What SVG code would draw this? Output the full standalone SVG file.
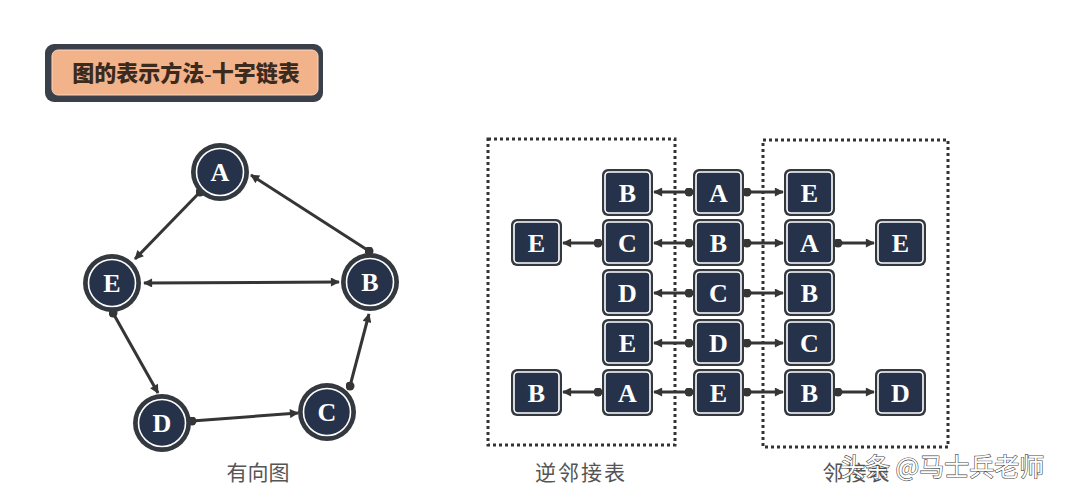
<svg xmlns="http://www.w3.org/2000/svg" width="1080" height="495" viewBox="0 0 1080 495">
<defs>
<style>
.nodeo{fill:#34383f}
.nodei{fill:#263249;stroke:#ffffff;stroke-width:1.6}
.lbl{font-family:"Liberation Serif",serif;font-weight:bold;font-size:26px;fill:#ffffff;text-anchor:middle}
.edge{stroke:#353535;stroke-width:3;fill:none}
.cap{font-family:"Liberation Serif","Noto Sans CJK SC",serif;font-size:21px;fill:#555555;text-anchor:middle}
.dots{fill:none;stroke:#333333;stroke-width:3;stroke-dasharray:3 3}
</style>
<marker id="arr" viewBox="0 0 10 10" refX="9" refY="5" markerWidth="11" markerHeight="9" markerUnits="userSpaceOnUse" orient="auto-start-reverse">
<path d="M0,0 L10,5 L0,10 z" fill="#353535"/>
</marker>
<marker id="dot" viewBox="0 0 10 10" refX="5" refY="5" markerWidth="9" markerHeight="9" markerUnits="userSpaceOnUse">
<circle cx="5" cy="5" r="5" fill="#353535"/>
</marker>
</defs>
<rect width="1080" height="495" fill="#ffffff"/>

<g id="title">
<rect x="45" y="44" width="278" height="58" rx="9" fill="#3a3f4a"/>
<rect x="52" y="50" width="266" height="45" rx="6" fill="#f3b38a" stroke="#f8d6bf" stroke-width="1"/>
<text x="186" y="81" font-family="Liberation Serif,'Noto Sans CJK SC',serif" font-weight="900" font-size="22" fill="#3b2a1e" text-anchor="middle">图的表示方法-十字链表</text>
</g>

<g id="graph-edges">
<line class="edge" x1="200" y1="192" x2="135" y2="259" marker-start="url(#dot)" marker-end="url(#arr)"/>
<line class="edge" x1="369" y1="251" x2="251" y2="175" marker-start="url(#dot)" marker-end="url(#arr)"/>
<line class="edge" x1="144" y1="283" x2="339" y2="282" marker-start="url(#arr)" marker-end="url(#arr)"/>
<line class="edge" x1="113" y1="313" x2="158" y2="393" marker-start="url(#dot)" marker-end="url(#arr)"/>
<line class="edge" x1="192" y1="421" x2="298" y2="413" marker-start="url(#dot)" marker-end="url(#arr)"/>
<line class="edge" x1="350" y1="386" x2="369" y2="314" marker-start="url(#dot)" marker-end="url(#arr)"/>
</g>

<g id="g-A"><circle class="nodeo" cx="220" cy="172" r="29"/><circle class="nodei" cx="220" cy="172" r="23.5"/><text class="lbl" x="220" y="181">A</text></g>
<g id="g-E"><circle class="nodeo" cx="112" cy="283" r="29"/><circle class="nodei" cx="112" cy="283" r="23.5"/><text class="lbl" x="112" y="292">E</text></g>
<g id="g-B"><circle class="nodeo" cx="370" cy="282" r="29"/><circle class="nodei" cx="370" cy="282" r="23.5"/><text class="lbl" x="370" y="291">B</text></g>
<g id="g-D"><circle class="nodeo" cx="162" cy="423" r="29"/><circle class="nodei" cx="162" cy="423" r="23.5"/><text class="lbl" x="162" y="432">D</text></g>
<g id="g-C"><circle class="nodeo" cx="327" cy="412" r="29"/><circle class="nodei" cx="327" cy="412" r="23.5"/><text class="lbl" x="327" y="421">C</text></g>
<text id="cap-graph" class="cap" x="258" y="480">有向图</text>

<g id="frames">
<rect class="dots" x="488" y="139" width="187" height="306"/>
<rect class="dots" x="763" y="140" width="185" height="307"/>
</g>

<g id="list-edges">
<line class="edge" x1="689" y1="192" x2="654" y2="192" marker-start="url(#dot)" marker-end="url(#arr)"/>
<line class="edge" x1="747" y1="192" x2="783" y2="192" marker-start="url(#dot)" marker-end="url(#arr)"/>
<line class="edge" x1="598" y1="243" x2="563" y2="243" marker-start="url(#dot)" marker-end="url(#arr)"/>
<line class="edge" x1="689" y1="243" x2="654" y2="243" marker-start="url(#dot)" marker-end="url(#arr)"/>
<line class="edge" x1="747" y1="243" x2="783" y2="243" marker-start="url(#dot)" marker-end="url(#arr)"/>
<line class="edge" x1="838" y1="243" x2="874" y2="243" marker-start="url(#dot)" marker-end="url(#arr)"/>
<line class="edge" x1="689" y1="293" x2="654" y2="293" marker-start="url(#dot)" marker-end="url(#arr)"/>
<line class="edge" x1="747" y1="293" x2="783" y2="293" marker-start="url(#dot)" marker-end="url(#arr)"/>
<line class="edge" x1="689" y1="343" x2="654" y2="343" marker-start="url(#dot)" marker-end="url(#arr)"/>
<line class="edge" x1="747" y1="343" x2="783" y2="343" marker-start="url(#dot)" marker-end="url(#arr)"/>
<line class="edge" x1="598" y1="392" x2="563" y2="392" marker-start="url(#dot)" marker-end="url(#arr)"/>
<line class="edge" x1="689" y1="392" x2="654" y2="392" marker-start="url(#dot)" marker-end="url(#arr)"/>
<line class="edge" x1="747" y1="392" x2="783" y2="392" marker-start="url(#dot)" marker-end="url(#arr)"/>
<line class="edge" x1="838" y1="392" x2="874" y2="392" marker-start="url(#dot)" marker-end="url(#arr)"/>
</g>

<g id="r0c1"><rect class="nodeo" x="602" y="169" width="51" height="47" rx="6"/><rect class="nodei" x="605" y="172" width="45" height="41" rx="4"/><text class="lbl" x="627.5" y="201.5">B</text></g>
<g id="r0c2"><rect class="nodeo" x="693" y="169" width="51" height="47" rx="6"/><rect class="nodei" x="696" y="172" width="45" height="41" rx="4"/><text class="lbl" x="718.5" y="201.5">A</text></g>
<g id="r0c3"><rect class="nodeo" x="784" y="169" width="51" height="47" rx="6"/><rect class="nodei" x="787" y="172" width="45" height="41" rx="4"/><text class="lbl" x="809.5" y="201.5">E</text></g>

<g id="r1c0"><rect class="nodeo" x="511" y="219" width="51" height="47" rx="6"/><rect class="nodei" x="514" y="222" width="45" height="41" rx="4"/><text class="lbl" x="536.5" y="251.5">E</text></g>
<g id="r1c1"><rect class="nodeo" x="602" y="219" width="51" height="47" rx="6"/><rect class="nodei" x="605" y="222" width="45" height="41" rx="4"/><text class="lbl" x="627.5" y="251.5">C</text></g>
<g id="r1c2"><rect class="nodeo" x="693" y="219" width="51" height="47" rx="6"/><rect class="nodei" x="696" y="222" width="45" height="41" rx="4"/><text class="lbl" x="718.5" y="251.5">B</text></g>
<g id="r1c3"><rect class="nodeo" x="784" y="219" width="51" height="47" rx="6"/><rect class="nodei" x="787" y="222" width="45" height="41" rx="4"/><text class="lbl" x="809.5" y="251.5">A</text></g>
<g id="r1c4"><rect class="nodeo" x="875" y="219" width="51" height="47" rx="6"/><rect class="nodei" x="878" y="222" width="45" height="41" rx="4"/><text class="lbl" x="900.5" y="251.5">E</text></g>

<g id="r2c1"><rect class="nodeo" x="602" y="269" width="51" height="47" rx="6"/><rect class="nodei" x="605" y="272" width="45" height="41" rx="4"/><text class="lbl" x="627.5" y="301.5">D</text></g>
<g id="r2c2"><rect class="nodeo" x="693" y="269" width="51" height="47" rx="6"/><rect class="nodei" x="696" y="272" width="45" height="41" rx="4"/><text class="lbl" x="718.5" y="301.5">C</text></g>
<g id="r2c3"><rect class="nodeo" x="784" y="269" width="51" height="47" rx="6"/><rect class="nodei" x="787" y="272" width="45" height="41" rx="4"/><text class="lbl" x="809.5" y="301.5">B</text></g>

<g id="r3c1"><rect class="nodeo" x="602" y="319" width="51" height="47" rx="6"/><rect class="nodei" x="605" y="322" width="45" height="41" rx="4"/><text class="lbl" x="627.5" y="351.5">E</text></g>
<g id="r3c2"><rect class="nodeo" x="693" y="319" width="51" height="47" rx="6"/><rect class="nodei" x="696" y="322" width="45" height="41" rx="4"/><text class="lbl" x="718.5" y="351.5">D</text></g>
<g id="r3c3"><rect class="nodeo" x="784" y="319" width="51" height="47" rx="6"/><rect class="nodei" x="787" y="322" width="45" height="41" rx="4"/><text class="lbl" x="809.5" y="351.5">C</text></g>

<g id="r4c0"><rect class="nodeo" x="511" y="369" width="51" height="47" rx="6"/><rect class="nodei" x="514" y="372" width="45" height="41" rx="4"/><text class="lbl" x="536.5" y="401.5">B</text></g>
<g id="r4c1"><rect class="nodeo" x="602" y="369" width="51" height="47" rx="6"/><rect class="nodei" x="605" y="372" width="45" height="41" rx="4"/><text class="lbl" x="627.5" y="401.5">A</text></g>
<g id="r4c2"><rect class="nodeo" x="693" y="369" width="51" height="47" rx="6"/><rect class="nodei" x="696" y="372" width="45" height="41" rx="4"/><text class="lbl" x="718.5" y="401.5">E</text></g>
<g id="r4c3"><rect class="nodeo" x="784" y="369" width="51" height="47" rx="6"/><rect class="nodei" x="787" y="372" width="45" height="41" rx="4"/><text class="lbl" x="809.5" y="401.5">B</text></g>
<g id="r4c4"><rect class="nodeo" x="875" y="369" width="51" height="47" rx="6"/><rect class="nodei" x="878" y="372" width="45" height="41" rx="4"/><text class="lbl" x="900.5" y="401.5">D</text></g>

<text id="cap-rev" class="cap" x="581" y="480" letter-spacing="2">逆邻接表</text>
<text id="cap-adj" class="cap" x="857" y="480" letter-spacing="2">邻接表</text>
<text id="watermark" x="840" y="476" font-family="'Noto Sans CJK SC',sans-serif" font-size="25" fill="#ffffff" stroke="#4a4a4a" stroke-width="1.2" paint-order="stroke">头条 @马士兵老师</text>
</svg>
